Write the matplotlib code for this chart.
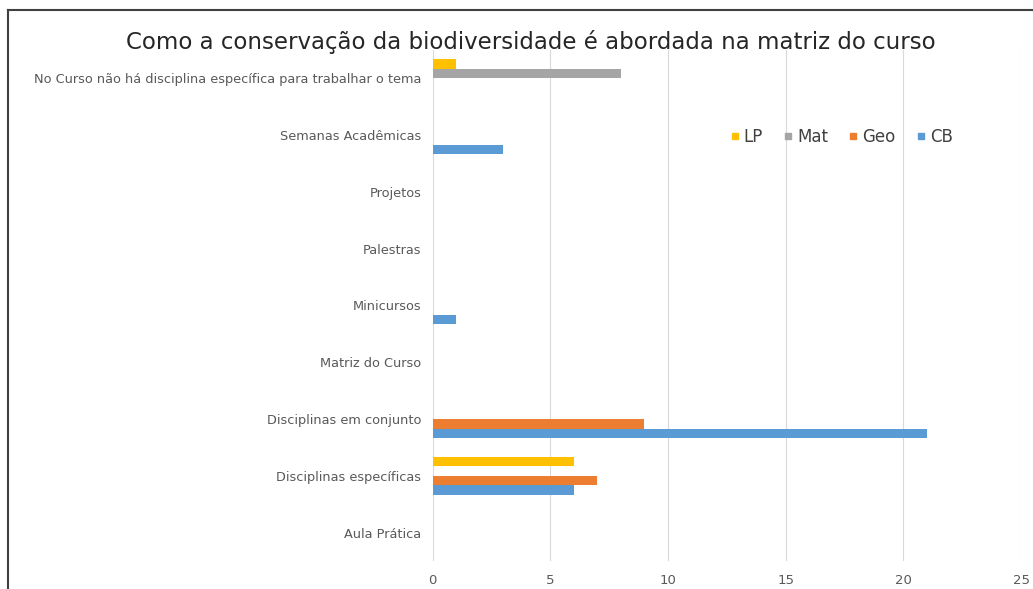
import matplotlib
matplotlib.use("Agg")
import matplotlib.pyplot as plt
import numpy as np
from matplotlib.lines import Line2D

plt.rcParams['font.family'] = ['DejaVu Sans']

categories = [
    "Aula Prática",
    "Disciplinas específicas",
    "Disciplinas em conjunto",
    "Matriz do Curso",
    "Minicursos",
    "Palestras",
    "Projetos",
    "Semanas Acadêmicas",
    "No Curso não há disciplina específica para trabalhar o tema",
]
cb = [0, 6, 21, 0, 1, 0, 0, 3, 0]
geo = [0, 7, 9, 0, 0, 0, 0, 0, 0]
mat = [0, 0, 0, 0, 0, 0, 0, 0, 8]
lp = [0, 6, 0, 0, 0, 0, 0, 0, 1]
x_ticks = [0, 5, 10, 15, 20, 25]

series = [("CB", cb, "#5B9BD5"), ("Geo", geo, "#ED7D31"),
          ("Mat", mat, "#A5A5A5"), ("LP", lp, "#FFC000")]

W, H = 1033, 589
fig = plt.figure(figsize=(W / 100, H / 100), dpi=100)
fig.patch.set_facecolor("white")

ax = fig.add_axes([432.5 / W, 1 - 561 / H, (1021 - 432.5) / W, (561 - 50) / H])

y = np.arange(len(categories))
h = 0.167
offsets = [-1.5, -0.5, 0.5, 1.5]
for (name, vals, color), off in zip(series, offsets):
    ax.barh(y + off * h, vals, height=h, color=color, label=name, zorder=3)

ax.set_xlim(0, 25)
ax.set_ylim(-0.5, len(categories) - 0.5)
ax.set_xticks(x_ticks)
ax.set_xticklabels([str(t) for t in x_ticks])
ax.set_yticks(y)
ax.set_yticklabels(categories)
ax.tick_params(axis='both', length=0, colors="#595959")
ax.tick_params(axis='x', pad=9, labelsize=9.5)
ax.tick_params(axis='y', pad=8, labelsize=9.3)
ax.grid(axis='x', color="#D9D9D9", linewidth=0.8, zorder=0)
for s in ax.spines.values():
    s.set_visible(False)

fig.text(531 / W, 1 - 42 / H,
         "Como a conservação da biodiversidade é abordada na matriz do curso",
         ha="center", va="center", fontsize=16.5, color="#262626")

handles = [Line2D([], [], marker='s', linestyle='none', markersize=4.5,
                  color=c) for _, _, c in reversed(series)]
labels = [n for n, _, _ in reversed(series)]
fig.legend(handles, labels, loc="center", ncol=4,
           bbox_to_anchor=(842 / W, 1 - 137 / H), frameon=False,
           fontsize=12, handlelength=0.4, handletextpad=0.35,
           columnspacing=1.3, labelcolor="#404040")

# Figure border (left and top edges visible)
fig.add_artist(Line2D([8 / W, 8 / W], [0, 1 - 10 / H], transform=fig.transFigure,
                      color="#404040", linewidth=1.5))
fig.add_artist(Line2D([8 / W, 1], [1 - 10 / H, 1 - 10 / H], transform=fig.transFigure,
                      color="#404040", linewidth=1.5))

fig.savefig("out.png", dpi=100)
